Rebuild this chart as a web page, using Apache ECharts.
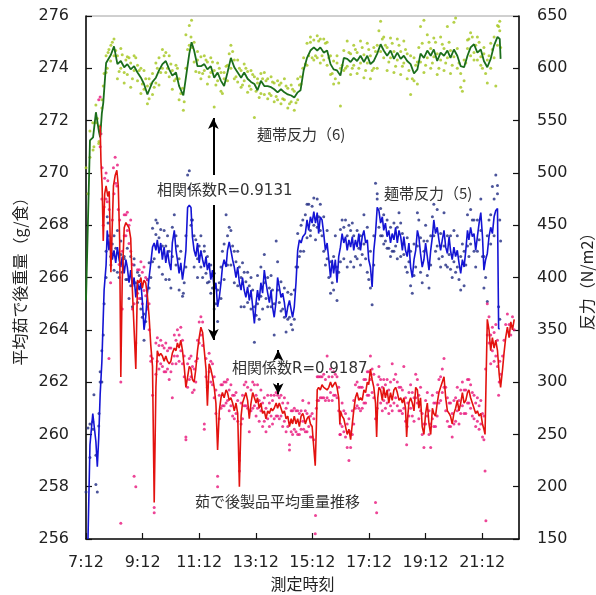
<!DOCTYPE html>
<html><head><meta charset="utf-8">
<script src="https://cdn.jsdelivr.net/npm/echarts@6/dist/echarts.min.js"></script>
<style>html,body{margin:0;padding:0;background:#fff}#c{width:596px;height:595px}</style>
</head><body><div id="c"></div>
<script>
// Time axis: hours elapsed since 7:12
const xTickLabelsStart = "7:12";
const leftTicks = [256, 276, 2];
const rightTicks = [150, 650, 50];

// 麺帯反力（6） — green line grid
const tGreen = [
0,0.14,0.25,0.35,0.46,0.50,0.56,0.61,0.71,0.78,
0.88,0.99,1.11,1.23,1.35,1.46,1.58,1.70,1.82,1.94,
2.05,2.17,2.23,2.35,2.47,2.58,2.70,2.82,2.94,3.05,
3.18,3.29,3.44,3.53,3.65,3.73,3.82,3.94,4.06,4.18,
4.29,4.41,4.53,4.65,4.77,4.88,5.00,5.12,5.24,5.36,
5.48,5.59,5.71,5.83,5.95,6.06,6.18,6.30,6.42,6.54,
6.65,6.77,6.89,7.01,7.13,7.25,7.36,7.48,7.58,7.69,
7.81,7.93,8.05,8.17,8.28,8.40,8.52,8.64,8.75,8.87,
8.99,9.11,9.23,9.35,9.46,9.58,9.70,9.82,9.94,10.05,
10.17,10.29,10.41,10.52,10.64,10.76,10.88,11.00,11.12,11.23,
11.35,11.47,11.59,11.71,11.82,11.94,12.06,12.18,12.29,12.41,
12.53,12.65,12.77,12.88,13.00,13.12,13.24,13.36,13.48,13.59,
13.71,13.83,13.95,14.06,14.18,14.30,14.42,14.54,14.62,14.65];
const greenLine = [
378,531,534,558,539,534,557,567,605,606,
613,621,604,607,601,604,599,602,596,591,
585,575,579,587,591,598,604,607,599,593,
596,583,574,591,614,625,617,602,602,604,
599,602,591,596,588,583,596,610,601,596,
591,596,590,587,585,579,588,583,583,582,
580,577,580,577,575,574,572,577,579,598,
610,617,620,617,620,615,617,604,599,598,
593,610,609,606,610,607,612,606,612,604,
607,614,623,617,612,617,609,615,609,612,
607,604,595,599,614,610,617,612,618,607,
615,612,617,610,618,612,602,601,612,620,
623,615,618,607,601,609,622,630,628,609];
const greenDots1 = [
505,540,522,548,530,545,570,583,596,615,
622,628,590,619,586,611,582,612,603,576,
598,566,590,575,605,584,618,596,612,580,
603,570,560,632,641,646,606,616,590,612,
585,610,563,605,578,596,588,622,590,608,
582,604,577,598,553,590,576,596,571,592,
568,588,566,590,562,584,560,590,592,610,
624,630,608,631,605,628,603,594,585,612,
564,598,626,594,622,595,626,591,624,590,
620,600,645,630,598,629,596,628,594,626,
590,575,610,585,640,596,632,600,629,594,
630,598,640,595,644,600,582,588,627,634,
608,630,603,620,586,624,610,641,645,620];

// 麺帯反力（5） — blue line grid
const tBlue = [
0.07,0.14,0.24,0.28,0.35,0.40,0.45,0.50,0.56,0.64,
0.71,0.75,0.81,0.87,0.93,0.99,1.05,1.11,1.17,1.23,
1.28,1.35,1.41,1.46,1.52,1.58,1.64,1.70,1.76,1.82,
1.88,1.94,1.99,2.05,2.11,2.17,2.23,2.29,2.35,2.41,
2.47,2.52,2.58,2.64,2.70,2.76,2.82,2.88,2.94,3.00,
3.05,3.12,3.18,3.23,3.29,3.35,3.41,3.47,3.53,3.59,
3.65,3.71,3.76,3.82,3.88,3.94,4.00,4.06,4.12,4.18,
4.24,4.29,4.35,4.41,4.47,4.53,4.59,4.65,4.71,4.77,
4.82,4.88,4.95,5.00,5.06,5.12,5.18,5.24,5.30,5.36,
5.42,5.48,5.53,5.59,5.65,5.71,5.77,5.83,5.89,5.95,
6.01,6.06,6.12,6.18,6.24,6.30,6.36,6.42,6.48,6.54,
6.59,6.65,6.72,6.77,6.83,6.89,6.95,7.01,7.07,7.13,
7.19,7.25,7.30,7.36,7.42,7.48,7.54,7.60,7.66,7.75,
7.81,7.87,7.93,7.99,8.05,8.11,8.17,8.22,8.28,8.34,
8.40,8.46,8.52,8.58,8.64,8.70,8.75,8.81,8.87,8.93,
8.99,9.05,9.11,9.17,9.23,9.29,9.35,9.41,9.46,9.52,
9.58,9.64,9.70,9.76,9.82,9.88,9.94,9.99,10.05,10.11,
10.17,10.23,10.29,10.35,10.41,10.47,10.52,10.58,10.64,10.70,
10.76,10.82,10.88,10.94,11.00,11.06,11.12,11.18,11.23,11.29,
11.35,11.41,11.47,11.53,11.59,11.65,11.71,11.76,11.82,11.88,
11.94,12.00,12.06,12.12,12.18,12.24,12.29,12.35,12.41,12.47,
12.53,12.59,12.65,12.71,12.77,12.83,12.88,12.94,13.00,13.06,
13.12,13.18,13.24,13.30,13.36,13.42,13.48,13.53,13.59,13.65,
13.71,13.77,13.83,13.89,13.95,14.01,14.06,14.12,14.18,14.24,
14.30,14.36,14.42,14.48,14.54,14.58,14.62];
const blueLine = [
150,240,270,271,243,219,247,288,319,388,
412,445,426,439,417,426,414,429,417,410,
420,404,417,410,395,407,391,400,381,395,
388,395,378,350,362,385,400,414,429,433,
426,436,423,433,417,429,414,426,414,407,
433,445,426,417,404,414,398,410,426,467,
469,467,439,426,420,433,414,426,417,410,
420,407,414,398,407,388,395,372,381,395,
410,417,410,426,434,426,417,410,400,410,
395,388,400,388,381,391,378,388,372,356,
376,388,378,395,385,407,395,385,376,388,
372,362,378,400,391,381,385,376,362,372,
378,369,362,372,395,426,436,433,439,442,
455,445,458,452,463,452,462,442,458,455,
442,426,433,417,400,417,404,417,395,420,
429,442,433,439,426,436,429,439,426,436,
429,442,426,439,445,433,436,417,410,391,
426,442,467,464,452,458,445,452,439,445,
433,442,436,448,433,445,439,426,439,426,
420,433,410,400,417,426,445,439,423,410,
417,433,420,407,426,439,455,442,448,436,
426,436,445,429,423,439,426,417,429,420,
426,414,404,417,410,426,445,436,448,439,
442,426,439,452,462,439,407,417,423,439,
448,442,458,464,466,351,351];
const blueDots1 = [
256,228,262,288,202,195,258,300,330,375,
425,458,440,420,432,407,428,445,400,422,
405,418,398,428,380,420,372,412,395,376,
402,380,362,340,358,398,414,400,447,418,
441,452,410,446,403,445,398,440,425,390,
448,460,412,430,388,425,382,395,440,498,
502,450,455,410,436,418,430,440,400,425,
404,420,396,412,390,404,375,358,395,380,
425,432,460,440,448,412,430,395,415,392,
410,372,414,372,396,376,392,370,388,338,
364,402,360,410,370,422,380,400,390,372,
388,345,435,415,376,396,370,390,348,386,
362,384,350,388,410,442,420,450,455,460,
438,470,440,468,476,436,448,458,470,440,
425,412,418,400,385,395,388,440,378,405,
446,455,418,455,410,450,415,452,410,420,
445,428,440,422,460,418,405,398,390,374,
440,490,480,448,466,440,460,435,455,428,
448,425,452,430,418,462,420,442,422,410,
438,415,392,385,432,410,462,455,405,395,
435,450,402,390,440,458,470,425,465,418,
442,420,462,412,440,422,408,400,445,405,
440,398,388,432,392,412,460,420,465,455,
425,410,455,436,475,420,390,400,440,455,
432,487,475,498,480,372,360];
// second set of blue dots, sampled on the green grid
const blueDots2 = [
195,260,255,230,270,310,300,345,400,452,
412,440,405,435,420,398,392,418,405,370,
365,372,390,415,455,438,430,430,398,420,
440,418,385,410,485,455,440,400,410,430,
395,385,370,388,410,398,412,445,425,425,
400,405,405,400,372,375,382,395,372,402,
375,388,368,362,360,355,360,410,425,425,
470,445,450,475,445,458,445,415,420,410,
415,448,440,445,440,418,412,432,448,425,
412,475,440,432,428,420,425,448,452,432,
405,425,402,430,438,425,435,412,440,430,
410,430,410,440,415,410,420,425,430,432,
455,425,445,420,377,460,440,488,455,435];
// second set of green dots, sampled on the blue grid
const greenDots2 = [
480,515,548,525,565,552,528,540,562,595,
612,600,618,607,625,612,617,612,597,600,
613,596,608,594,610,605,590,598,610,588,
598,600,585,580,590,583,571,585,595,582,
586,600,610,596,600,612,615,600,592,604,
598,588,590,600,590,576,581,568,600,618,
622,630,620,625,597,608,596,611,595,598,
608,606,592,596,606,598,584,588,600,596,
576,590,602,603,614,600,616,608,592,587,
600,598,584,588,600,597,583,580,594,592,
578,586,572,595,590,575,588,590,576,574,
587,586,573,570,584,586,571,570,583,581,
566,568,580,578,567,570,584,585,600,604,
603,612,625,610,627,612,610,626,628,612,
608,624,625,610,612,595,607,590,605,586,
600,603,617,600,602,615,614,600,603,618,
615,600,605,620,613,598,605,618,612,598,
600,616,622,636,616,628,610,622,620,606,
610,624,616,602,608,622,616,602,605,618,
614,598,612,590,588,603,606,620,606,624,
646,603,610,625,619,605,611,625,614,600,
608,623,619,605,610,625,617,603,611,648,
619,605,595,578,608,605,619,628,612,630,
615,622,608,625,611,600,614,595,608,612,
600,618,630,583,622,640,636];

// 茹で後製品平均重量推移 — red line grid
const tRed = [
0.50,0.53,0.57,0.61,0.66,0.71,0.77,0.82,0.88,0.97,
1.03,1.09,1.14,1.19,1.23,1.28,1.35,1.41,1.46,1.52,
1.58,1.64,1.70,1.76,1.82,1.88,1.94,1.99,2.05,2.11,
2.17,2.23,2.29,2.35,2.41,2.47,2.52,2.58,2.64,2.70,
2.76,2.82,2.88,2.94,3.00,3.05,3.12,3.18,3.23,3.29,
3.35,3.41,3.47,3.53,3.59,3.65,3.71,3.76,3.82,3.88,
3.94,4.00,4.06,4.12,4.18,4.24,4.29,4.35,4.41,4.47,
4.53,4.59,4.65,4.71,4.77,4.82,4.88,4.95,5.00,5.06,
5.12,5.18,5.24,5.30,5.36,5.42,5.48,5.53,5.59,5.65,
5.71,5.77,5.83,5.89,5.95,6.01,6.06,6.12,6.18,6.24,
6.30,6.36,6.42,6.48,6.54,6.59,6.65,6.72,6.77,6.83,
6.89,6.95,7.01,7.07,7.13,7.19,7.25,7.30,7.36,7.42,
7.48,7.54,7.60,7.66,7.69,7.75,7.81,7.87,7.93,7.99,
8.05,8.10,8.14,8.17,8.22,8.28,8.34,8.40,8.46,8.52,
8.58,8.64,8.70,8.75,8.81,8.87,8.93,8.97,8.99,9.05,
9.11,9.17,9.23,9.29,9.35,9.41,9.46,9.52,9.58,9.64,
9.70,9.76,9.82,9.88,9.94,9.99,10.05,10.11,10.17,10.23,
10.27,10.31,10.35,10.41,10.47,10.52,10.58,10.64,10.70,10.76,
10.82,10.88,10.94,11.00,11.06,11.12,11.18,11.23,11.29,11.33,
11.37,11.41,11.47,11.53,11.59,11.65,11.71,11.76,11.82,11.88,
11.94,12.00,12.06,12.12,12.18,12.24,12.29,12.35,12.41,12.47,
12.53,12.59,12.65,12.71,12.77,12.83,12.88,12.94,13.00,13.06,
13.12,13.18,13.24,13.30,13.36,13.42,13.48,13.53,13.59,13.65,
13.71,13.77,13.83,13.89,13.95,14.01,14.06,14.10,14.13,14.18,
14.24,14.30,14.36,14.42,14.48,14.54,14.60,14.65,14.72,14.77,
14.83,14.89,14.95,15.01,15.07,15.13];
const redLine = [
271.8,270.4,269.5,267.4,269.2,269.5,269.1,269.3,266.2,269.5,
269.9,270.1,269.5,267.4,262.2,265.9,267.9,268.1,268.1,267.9,
267.5,265.5,264.0,262.5,265.9,265.8,266.0,265.6,265.9,265.8,
265.3,264.5,263.4,262.6,257.4,261.8,263.2,263.0,263.1,263.0,
262.8,263.0,262.8,262.7,262.8,263.1,263.3,263.2,263.5,263.3,
263.6,263.2,262.6,261.8,262.2,262.6,262.5,262.1,262.0,262.5,
263.2,263.7,264.1,263.9,263.2,262.5,261.1,262.7,262.5,262.2,
261.8,261.2,259.4,260.9,261.4,261.6,261.4,261.7,261.6,261.3,
261.4,261.2,260.9,261.2,260.8,258.0,260.7,261.2,261.4,261.6,
261.3,260.6,261.2,261.6,261.4,261.2,261.4,261.0,261.2,260.8,
260.9,260.6,260.9,260.8,261.0,260.9,261.0,261.2,261.0,261.2,
261.0,260.8,260.9,260.6,260.7,260.3,260.6,260.4,260.7,260.4,
260.6,260.3,260.7,260.8,260.7,260.4,260.6,260.7,260.4,260.3,
260.3,258.8,260.3,261.7,261.8,261.7,261.9,261.8,261.8,261.7,
261.8,262.0,261.8,261.9,262.0,261.8,261.4,260.4,260.9,260.7,
260.6,260.3,260.0,260.2,259.8,260.4,260.9,261.4,261.6,261.3,
261.4,261.3,261.7,261.6,262.0,261.9,262.5,262.1,261.8,261.2,
259.9,261.4,261.8,261.7,261.3,261.8,261.4,261.7,261.2,261.6,
261.3,261.7,261.8,261.6,261.3,261.4,261.2,261.4,261.0,259.9,
260.7,261.2,261.4,261.2,260.9,261.8,261.7,261.0,261.4,260.3,
260.0,260.8,261.2,260.4,260.0,261.0,260.8,260.7,261.2,261.6,
261.8,262.0,262.2,261.4,260.9,260.8,260.7,260.4,260.8,261.0,
261.3,260.9,261.2,261.6,261.2,261.3,261.6,261.7,261.4,261.2,
261.0,260.8,260.9,260.7,260.8,260.4,260.2,260.0,261.7,264.4,
264.0,263.2,263.7,263.3,263.6,263.2,262.3,261.8,262.5,263.1,
263.7,264.1,263.7,264.3,264.0,264.4];
const redDots1 = [
272.9,271.5,270.2,268.0,269.8,269.0,269.7,268.6,267.2,270.2,
270.6,269.5,268.6,268.2,262.0,267.0,268.4,267.6,268.5,267.3,
268.2,266.5,265.0,263.5,266.3,265.2,266.6,265.0,266.4,265.3,
265.9,264.0,263.0,262.9,257.0,263.5,263.7,262.5,263.6,262.6,
263.3,262.4,263.2,262.1,263.3,261.4,263.8,262.7,264.0,262.8,
264.1,262.7,263.0,259.9,262.7,262.1,263.0,261.6,262.5,262.0,
263.6,264.3,264.5,263.4,260.2,262.9,261.8,263.1,262.0,262.7,
261.4,261.7,258.4,261.5,261.9,261.1,262.0,261.2,262.1,260.9,
261.9,260.7,261.5,260.8,261.3,259.0,261.2,260.6,261.9,261.1,
261.8,260.1,261.7,261.0,261.9,260.7,261.9,260.5,261.7,260.3,
261.4,260.1,261.5,260.3,261.5,260.4,261.5,260.7,261.5,260.6,
261.5,260.3,261.4,260.1,261.2,259.6,260.1,260.9,260.2,260.9,
260.0,260.8,260.2,261.3,260.2,260.9,260.1,261.2,259.9,260.8,
259.8,256.2,261.0,262.2,261.3,262.2,261.4,262.3,261.3,263.0,
261.3,262.5,261.3,262.4,261.5,262.2,260.9,260.0,260.4,261.2,
260.1,260.8,259.5,259.0,259.5,260.9,260.4,261.9,261.1,261.8,
260.9,261.8,261.2,262.1,261.5,262.4,263.0,261.6,262.3,257.4,
257.0,261.9,262.6,261.2,261.8,261.3,261.9,261.2,261.7,261.1,
262.7,261.2,262.3,261.1,261.8,260.9,261.7,262.6,260.5,259.6,
261.2,260.7,261.9,260.7,261.4,262.3,261.2,261.5,260.9,260.8,
259.5,261.3,260.7,260.9,259.5,261.5,260.3,261.2,260.7,262.1,
261.3,262.5,262.9,260.9,261.4,260.3,261.2,259.9,261.3,260.5,
261.8,260.4,261.7,261.1,261.7,260.8,262.1,261.2,261.9,260.7,
261.5,260.3,261.4,260.2,261.3,259.9,260.7,258.6,256.7,265.0,
263.5,263.8,263.2,263.9,263.0,263.6,262.0,262.3,263.0,263.6,
264.2,264.6,264.2,263.8,264.5,264.0];
// second set of red dots, sampled on the blue grid
const redDots2 = [
null,null,null,null,null,null,272.8,271.0,269.0,268.7,
270.0,268.9,262.9,265.8,268.2,269.2,269.6,270.3,266.5,256.6,
264.8,267.6,268.4,267.8,268.0,267.0,264.8,258.4,258.0,265.4,
266.3,265.6,266.2,265.5,266.0,264.8,265.0,262.8,261.5,257.2,
262.3,262.8,263.4,262.7,263.4,262.4,263.5,262.5,263.3,262.4,
262.7,263.0,263.6,263.0,263.8,263.2,263.6,262.2,259.8,261.8,
262.9,262.2,262.6,261.7,262.8,262.9,263.5,263.8,264.3,260.4,
262.2,262.0,262.4,262.8,261.9,262.2,260.8,258.0,260.6,261.0,
261.9,261.1,262.0,261.3,261.7,261.1,261.5,260.6,261.6,260.5,
258.6,260.4,261.5,261.1,262.0,261.0,260.9,260.9,262.0,261.1,
261.5,261.0,261.3,260.9,261.2,260.5,261.0,260.6,261.2,260.7,
261.3,260.6,261.6,260.7,261.4,260.7,261.2,260.5,261.0,260.3,
259.4,260.9,260.0,261.0,260.1,260.9,260.0,260.9,260.5,260.1,
260.8,260.3,260.7,259.9,260.6,256.9,261.3,262.2,261.4,262.2,
261.4,262.1,261.4,262.2,261.6,262.2,261.5,262.3,261.4,261.8,
260.0,260.3,260.9,259.9,260.4,260.6,260.1,260.0,261.3,261.0,
262.0,261.0,261.8,261.0,262.1,261.2,262.4,261.5,262.1,262.5,
261.4,260.6,261.0,262.2,262.1,260.9,262.1,261.0,262.1,260.8,
262.0,260.9,262.1,261.4,262.0,260.9,261.8,260.8,261.0,261.4,
260.3,261.6,261.0,261.6,260.5,261.4,262.1,260.6,261.8,260.0,
260.4,260.4,261.6,260.0,260.4,260.6,261.2,260.3,261.6,261.2,
262.2,261.6,261.8,261.8,260.5,261.2,260.3,260.8,260.4,261.4,
260.9,261.3,260.8,262.0,260.8,261.7,261.2,262.1,261.0,261.6,
260.6,261.2,260.5,261.1,260.4,260.8,259.8,262.5,263.8,264.5,
262.7,264.1,262.8,264.2,262.6,261.5,262.8];

const FONT = "'DejaVu Sans', 'Noto Sans CJK JP', sans-serif";
const CJK = "'Noto Sans CJK JP', 'DejaVu Sans', sans-serif";

function pts(t, v) {
  const out = [];
  for (let i = 0; i < t.length && i < v.length; i++) if (v[i] != null) out.push([t[i], v[i]]);
  return out;
}
function clock(v) {
  const p = xTickLabelsStart.split(':');
  const m = Math.round(+p[0] * 60 + +p[1] + v * 60);
  return Math.floor(m / 60) + ':' + String(m % 60).padStart(2, '0');
}

const chart = echarts.init(document.getElementById('c'), null, {renderer: 'canvas'});
const axisLine = {show: true, lineStyle: {color: '#111', width: 1.6}};
const tick = {show: true, inside: true, length: 6, lineStyle: {color: '#111', width: 1.2}};
const labelStyle = {color: '#222', fontSize: 16, fontFamily: FONT};

const dotBase = {type: 'scatter', symbol: 'circle', symbolSize: 3, silent: true, z: 2};
const lineBase = {type: 'line', showSymbol: false, symbol: 'none', silent: true, z: 3, smooth: false};

chart.setOption({
  animation: false,
  backgroundColor: '#fff',
  grid: {left: 86, right: 77, top: 16, bottom: 56, containLabel: false, outerBoundsMode: 'none',
         show: true, borderColor: '#a0a0a0', borderWidth: 1},
  xAxis: {
    type: 'value', min: 0, max: 15.3, interval: 2,
    name: '測定時刻', nameLocation: 'middle', nameGap: 30,
    nameTextStyle: {color: '#222', fontSize: 16, fontFamily: CJK},
    axisLine: axisLine, axisTick: tick, splitLine: {show: false},
    axisLabel: Object.assign({margin: 16, showMaxLabel: false, formatter: clock}, labelStyle)
  },
  yAxis: [{
    type: 'value', min: leftTicks[0], max: leftTicks[1], interval: leftTicks[2], position: 'left',
    name: '平均茹で後重量（g/食）', nameLocation: 'middle', nameGap: 48,
    nameTextStyle: {color: '#222', fontSize: 16, fontFamily: CJK},
    axisLine: axisLine, axisTick: tick, splitLine: {show: false},
    axisLabel: Object.assign({margin: 17}, labelStyle)
  }, {
    type: 'value', min: rightTicks[0], max: rightTicks[1], interval: rightTicks[2], position: 'right',
    name: '反力（N/m2）', nameLocation: 'middle', nameGap: 52,
    nameTextStyle: {color: '#222', fontSize: 16, fontFamily: CJK},
    axisLine: axisLine, axisTick: tick, splitLine: {show: false},
    axisLabel: Object.assign({margin: 18}, labelStyle)
  }],
  series: [
    Object.assign({}, dotBase, {name: 'g1', yAxisIndex: 1, data: pts(tGreen, greenDots1), itemStyle: {color: '#a4c61c'}}),
    Object.assign({}, dotBase, {name: 'g2', yAxisIndex: 1, data: pts(tBlue, greenDots2), itemStyle: {color: '#a4c61c'}}),
    Object.assign({}, dotBase, {name: 'b1', yAxisIndex: 1, data: pts(tBlue, blueDots1), itemStyle: {color: '#1f2a82'}}),
    Object.assign({}, dotBase, {name: 'b2', yAxisIndex: 1, data: pts(tGreen, blueDots2), itemStyle: {color: '#1f2a82'}}),
    Object.assign({}, dotBase, {name: 'r1', yAxisIndex: 0, data: pts(tRed, redDots1), itemStyle: {color: '#e8157c'}}),
    Object.assign({}, dotBase, {name: 'r2', yAxisIndex: 0, data: pts(tBlue, redDots2), itemStyle: {color: '#e8157c'}}),
    Object.assign({}, lineBase, {name: '麺帯反力（6）', yAxisIndex: 1, data: pts(tGreen, greenLine),
      lineStyle: {color: '#1b6e1b', width: 1.8}}),
    Object.assign({}, lineBase, {name: '麺帯反力（5）', yAxisIndex: 1, data: pts(tBlue, blueLine),
      lineStyle: {color: '#1414d4', width: 1.6}}),
    Object.assign({}, lineBase, {name: '茹で後製品平均重量推移', yAxisIndex: 0, data: pts(tRed, redLine),
      lineStyle: {color: '#e3120f', width: 1.6},
      markLine: {
        silent: true, animation: false, symbol: ['none', 'arrow'], symbolSize: [8, 11],
        label: {show: false}, lineStyle: {color: '#000', width: 2, type: 'solid'},
        data: [
          [{coord: [4.5, 269.92]}, {coord: [4.5, 272.1]}],
          [{coord: [4.5, 268.77]}, {coord: [4.5, 263.61]}],
          [{coord: [6.79, 262.95]}, {coord: [6.79, 263.23]}],
          [{coord: [6.79, 261.97]}, {coord: [6.79, 261.54]}]
        ]
      }})
  ],
  graphic: [
    {type: 'text', left: 257, top: 127, z: 100, style: {text: '麺帯反力（6)', fontSize: 15, fontFamily: CJK, fill: '#333'}},
    {type: 'text', left: 157, top: 184, z: 100, style: {text: '相関係数R=0.9131', fontSize: 15, fontFamily: FONT, fill: '#333'}},
    {type: 'text', left: 384, top: 186, z: 100, style: {text: '麺帯反力（5)', fontSize: 15, fontFamily: CJK, fill: '#333'}},
    {type: 'text', left: 232, top: 362, z: 100, style: {text: '相関係数R=0.9187', fontSize: 15, fontFamily: FONT, fill: '#333'}},
    {type: 'text', left: 195, top: 494, z: 100, style: {text: '茹で後製品平均重量推移', fontSize: 15, fontFamily: CJK, fill: '#333'}}
  ]
});
</script></body></html>
